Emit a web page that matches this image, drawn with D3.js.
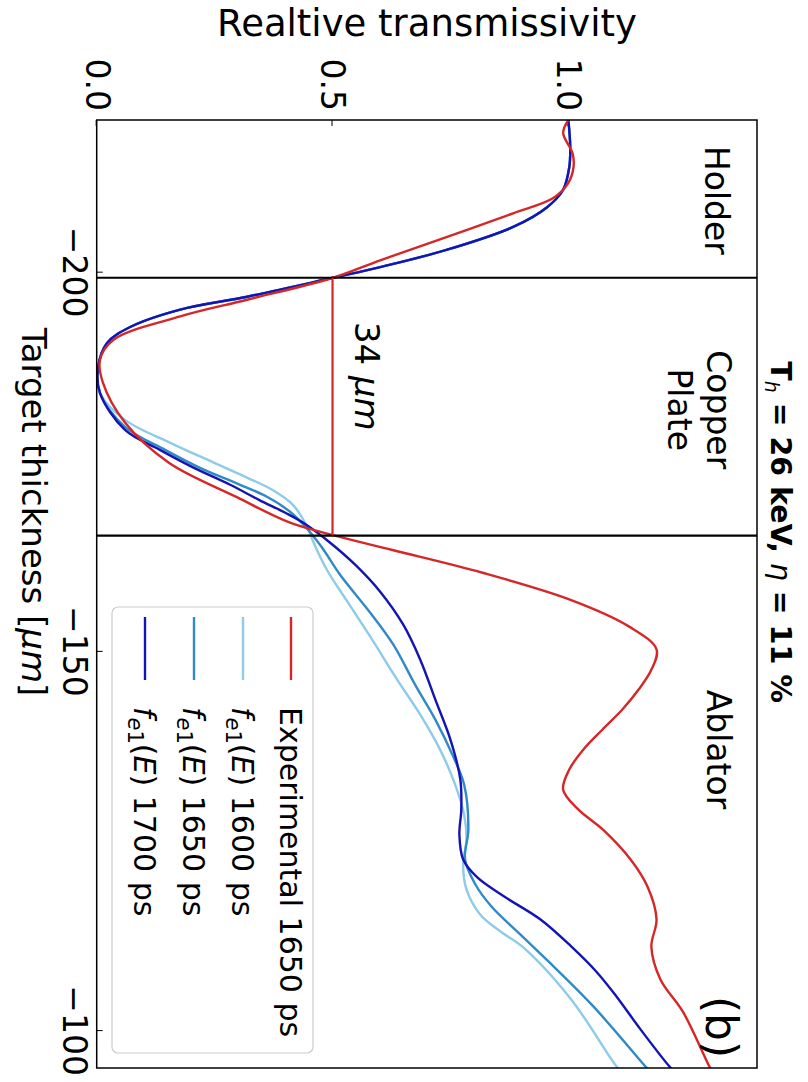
<!DOCTYPE html>
<html><head><meta charset="utf-8">
<script src="https://cdn.jsdelivr.net/npm/d3@7"></script>
<style>
body{margin:0;background:#fff;}
svg text{font-family:"DejaVu Sans",sans-serif;fill:#000;}
</style>
</head><body>
<script>
// ---- data (thickness in µm, relative transmissivity) ----
const tickThickness = [-200, -150, -100];
const tickTrans = [0.0, 0.5, 1.0];
const boundaries = [-199.2, -165.2];

const expT = [-220.0,-218.3,-215.6,-213.8,-211.7,-209.7,-207.7,-204.6,-201.5,-199.2,-196.3,-194.1,-191.0,-188.4,-185.4,-180.1,-174.8,-170.3,-166.9,-165.3,-163.3,-160.3,-156.7,-153.2,-150.2,-147.5,-144.9,-142.3,-139.6,-137.0,-134.35,-131.7,-129.1,-126.4,-122.5,-118.9,-114.6,-111.0,-106.7,-102.3,-95.2,-94.0];
const expV = [1.000,0.989,1.009,1.011,1.000,0.968,0.883,0.743,0.601,0.501,0.319,0.177,0.035,0.007,0.013,0.060,0.153,0.296,0.410,0.499,0.627,0.818,1.006,1.129,1.187,1.176,1.149,1.115,1.072,1.032,1.002,0.989,1.021,1.074,1.132,1.168,1.187,1.176,1.195,1.244,1.299,1.310];

const f1600T = [-220.0,-216.5,-213.8,-210.8,-208.5,-205.9,-202.9,-200.6,-199.2,-196.7,-195.0,-192.7,-190.6,-187.4,-184.0,-180.46,-177.43,-174.80,-172.95,-171.24,-169.26,-166.63,-163.99,-160.70,-156.35,-151.48,-146.21,-141.59,-136.98,-132.37,-128.42,-125.12,-121.83,-118.54,-115.24,-113.00,-111.03,-104.04,-95.22,-94.0];
const f1600V = [1.000,1.004,1.002,0.989,0.955,0.883,0.743,0.601,0.501,0.319,0.177,0.071,0.022,0.003,0.007,0.060,0.156,0.249,0.315,0.372,0.416,0.444,0.462,0.488,0.533,0.584,0.637,0.686,0.728,0.760,0.779,0.784,0.777,0.784,0.813,0.856,0.902,1.006,1.102,1.120];

const f1650T = [-220.0,-216.5,-213.8,-210.8,-208.5,-205.9,-202.9,-200.6,-199.2,-196.7,-195.0,-192.7,-190.6,-187.4,-184.0,-179.54,-176.51,-174.14,-171.90,-170.32,-168.34,-165.97,-163.60,-160.04,-155.03,-150.82,-145.55,-140.94,-136.32,-132.37,-126.44,-122.49,-119.20,-116.30,-112.61,-108.92,-103.12,-95.22,-94.0];
const f1650V = [1.000,1.004,1.002,0.989,0.955,0.883,0.743,0.601,0.501,0.319,0.177,0.071,0.022,0.003,0.007,0.060,0.145,0.219,0.304,0.361,0.410,0.448,0.478,0.516,0.580,0.629,0.675,0.718,0.754,0.779,0.788,0.781,0.803,0.837,0.898,0.960,1.053,1.163,1.180];

const f1700T = [-220.0,-216.5,-213.8,-210.8,-208.5,-205.9,-202.9,-200.6,-199.2,-196.7,-195.0,-192.7,-190.6,-187.4,-184.0,-179.14,-176.51,-174.27,-171.90,-169.92,-168.21,-166.89,-164.26,-161.36,-157.80,-153.45,-148.84,-143.57,-138.30,-133.03,-129.08,-125.78,-122.49,-120.12,-117.61,-114.58,-111.03,-107.73,-104.44,-100.09,-95.22,-94.0];
const f1700V = [1.000,1.004,1.002,0.989,0.955,0.883,0.743,0.601,0.501,0.319,0.177,0.071,0.022,0.003,0.007,0.060,0.134,0.202,0.283,0.344,0.400,0.438,0.495,0.548,0.601,0.650,0.686,0.718,0.750,0.771,0.773,0.769,0.777,0.807,0.864,0.941,1.006,1.059,1.102,1.153,1.214,1.232];

const seriesNames = ["Experimental 1650 ps", "1600 ps", "1650 ps", "1700 ps"];
const seriesColors = ["#d62728", "#8ecbea", "#2f8ac6", "#1414b4"];

const regionNames = ["Holder", "Copper", "Plate", "Ablator"];
const regionPos = [[-209.4, 1.290], [-181.8, 1.294], [-181.8, 1.211], [-137.0, 1.294]];

// ---- layout ----
const W = 808, H = 1082;
const svg = d3.select("body").append("svg").attr("width", W).attr("height", H);
svg.append("rect").attr("width", W).attr("height", H).attr("fill", "#fff");
// whole figure is rotated 90° clockwise
const g = svg.append("g").attr("transform", `translate(${W},0) rotate(90)`);

const x = d3.scaleLinear().domain([-220, -95]).range([120, 1068]);
const y = d3.scaleLinear().domain([0, 1.4]).range([711.3, 51]);

g.append("clipPath").attr("id", "clip").append("rect")
  .attr("x", x(-220)).attr("y", y(1.4)).attr("width", x(-95) - x(-220)).attr("height", y(0) - y(1.4));

// axes
const xAxis = d3.axisBottom(x).tickValues(tickThickness).tickFormat(d3.format("d"))
  .tickSizeInner(-6).tickSizeOuter(0).tickPadding(10.3);
const gx = g.append("g").attr("transform", `translate(0,${y(0)})`).call(xAxis);
const yAxis = d3.axisLeft(y).tickValues(tickTrans).tickFormat(d3.format(".1f"))
  .tickSizeInner(-6).tickSizeOuter(0).tickPadding(9);
const gy = g.append("g").attr("transform", `translate(${x(-220)},0)`).call(yAxis);
[gx, gy].forEach(a => {
  a.select(".domain").remove();
  a.selectAll(".tick line").attr("stroke", "#000").attr("stroke-width", 1);
  a.selectAll(".tick text").attr("font-size", 33).attr("font-family", "DejaVu Sans").attr("fill", "#000");
});

// curves
const line = d3.line().x(d => x(d[0])).y(d => y(d[1])).curve(d3.curveCatmullRom.alpha(0.5));
const seriesData = [
  d3.zip(expT, expV), d3.zip(f1600T, f1600V), d3.zip(f1650T, f1650V), d3.zip(f1700T, f1700V)
];
const plot = g.append("g").attr("clip-path", "url(#clip)");
[1, 2, 3, 0].forEach(i => {
  plot.append("path").attr("d", line(seriesData[i])).attr("fill", "none")
    .attr("stroke", seriesColors[i]).attr("stroke-width", 2.4).attr("stroke-linejoin", "round");
});

// region boundaries
boundaries.forEach(b => {
  g.append("line").attr("x1", x(b)).attr("x2", x(b)).attr("y1", y(0)).attr("y2", y(1.4))
    .attr("stroke", "#000").attr("stroke-width", 2.2);
});
// 34 µm marker
g.append("line").attr("x1", x(boundaries[0])).attr("x2", x(boundaries[1]))
  .attr("y1", y(0.5)).attr("y2", y(0.5)).attr("stroke", "#d62728").attr("stroke-width", 2.2);
const t34 = g.append("text").attr("x", x(-186.2)).attr("y", y(0.548)).attr("text-anchor", "middle").attr("font-size", 34);
t34.append("tspan").text("34 ");
t34.append("tspan").attr("font-style", "italic").text("μm");

// frame
g.append("rect").attr("x", x(-220)).attr("y", y(1.4)).attr("width", x(-95) - x(-220)).attr("height", y(0) - y(1.4))
  .attr("fill", "none").attr("stroke", "#000").attr("stroke-width", 1.5);

// region labels
regionNames.forEach((n, i) => {
  g.append("text").attr("x", x(regionPos[i][0])).attr("y", y(regionPos[i][1]))
    .attr("text-anchor", "middle").attr("font-size", 33).text(n);
});
g.append("text").attr("x", x(-100.4)).attr("y", y(1.292)).attr("text-anchor", "middle")
  .attr("font-size", 44).text("(b)");

// legend
const lg = g.append("g");
lg.append("rect").attr("x", 607).attr("y", 495).attr("width", 446).attr("height", 201).attr("rx", 6)
  .attr("fill", "#fff").attr("fill-opacity", 0.8).attr("stroke", "#cccccc").attr("stroke-width", 1.2);
const rowY = [517, 565, 614, 663];
seriesNames.forEach((n, i) => {
  lg.append("line").attr("x1", 617).attr("x2", 680).attr("y1", rowY[i]).attr("y2", rowY[i])
    .attr("stroke", seriesColors[i]).attr("stroke-width", 2.4);
  const t = lg.append("text").attr("x", 707).attr("y", rowY[i] + 11).attr("font-size", 30);
  if (i === 0) { t.text(n); }
  else {
    t.append("tspan").attr("font-style", "italic").text("f");
    t.append("tspan").attr("font-size", 21).attr("dy", 6).attr("font-style", "italic").text("e");
    t.append("tspan").attr("font-size", 21).text("1");
    t.append("tspan").attr("dy", -6).text("(");
    t.append("tspan").attr("font-style", "italic").text("E");
    t.append("tspan").text(") " + n);
  }
});

// axis labels and title
const xl = g.append("text").attr("x", 512).attr("y", 786).attr("text-anchor", "middle").attr("font-size", 34);
xl.append("tspan").text("Target thickness [");
xl.append("tspan").attr("font-style", "italic").text("μm");
xl.append("tspan").text("]");
g.append("text").attr("transform", "translate(36,381) rotate(-90)").attr("text-anchor", "middle")
  .attr("font-size", 37).text("Realtive transmissivity");
const title = g.append("text").attr("x", 532).attr("y", 37).attr("text-anchor", "middle")
  .attr("font-size", 28.5).attr("font-weight", "bold");
title.append("tspan").text("T");
title.append("tspan").attr("font-size", 19).attr("font-style", "italic").attr("font-weight", "normal").attr("dy", 6).text("h");
title.append("tspan").attr("dy", -6).text(" = 26 keV, ");
title.append("tspan").attr("font-style", "italic").attr("font-weight", "normal").text("η");
title.append("tspan").text(" = 11 %");
</script>
</body></html>
